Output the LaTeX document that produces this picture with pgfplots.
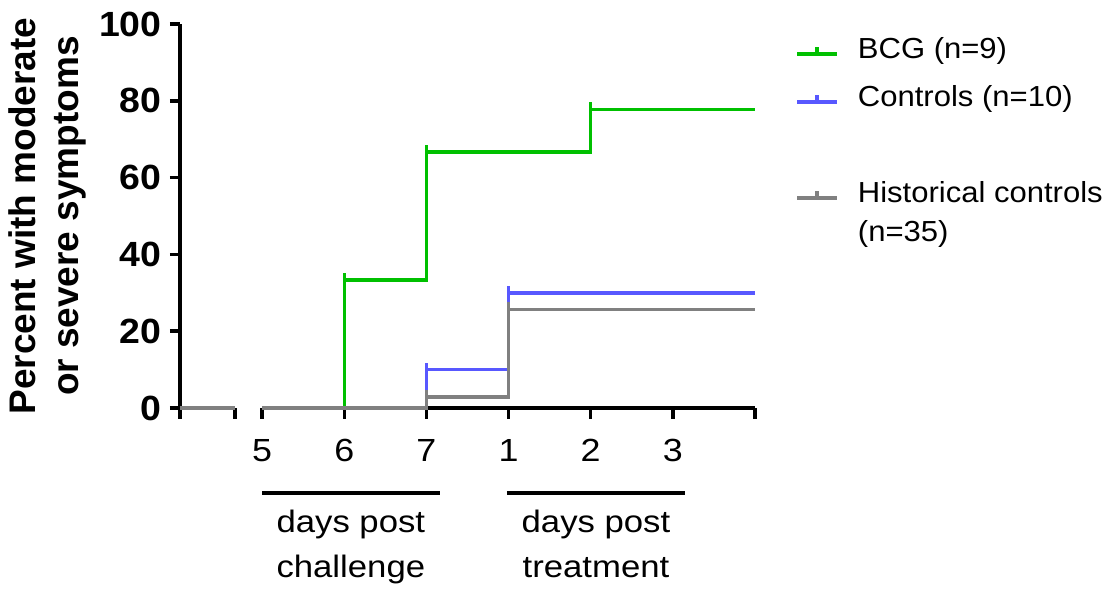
\documentclass[border=0pt]{standalone}
\usepackage{pgfplots}
\pgfplotsset{compat=1.18}
\usepackage{fontspec}
\setmainfont{Liberation Sans}
\newfontfamily\tickfont[FakeStretch=1.07]{Liberation Sans}
\newfontfamily\xfont[FakeStretch=1.12]{Liberation Sans}
\newfontfamily\legfont[FakeStretch=1.07]{Liberation Sans}
\definecolor{bcgc}{RGB}{0,192,0}
\definecolor{ctrlc}{RGB}{88,88,255}
\definecolor{histc}{RGB}{128,128,128}
\pgfdeclareplotmark{uptick}{\pgfpathmoveto{\pgfpointorigin}\pgfpathlineto{\pgfqpoint{0pt}{\pgfplotmarksize}}\pgfusepathqstroke}
\begin{document}
\begin{tikzpicture}
\begin{axis}[
  scale only axis, width=287.5pt, height=192pt,
  xmin=4, xmax=11, ymin=0, ymax=100,
  clip=false,
  axis y line*=left, axis x line*=bottom,
  x axis line style={draw=none},
  y axis line style={line width=1.75pt, -},
  tick align=outside, major tick length=5pt,
  ytick={0,20,40,60,80,100},
  yticklabels={0,20,40,60,80,100},
  ytick style={line width=1.75pt, black},
  yticklabel style={font=\tickfont\bfseries\fontsize{17.5}{19}\selectfont, inner sep=0pt, xshift=-4pt},
  xtick={5,6,7,8,9,10},
  xticklabels={5,6,7,1,2,3},
  xtick style={draw=none},
  xticklabel style={font=\xfont\fontsize{16}{18}\selectfont, inner sep=0pt, yshift=-10.5pt},
  ylabel={Percent with moderate\\or severe symptoms},
  ylabel style={at={(axis description cs:-0.23,0.5)}, anchor=center, align=center, font=\bfseries\fontsize{18.5}{21.5}\selectfont},
  legend image code/.code={\draw[#1, line cap=butt] (0pt,-2pt) -- (20pt,-2pt); \draw[#1, line cap=butt] (10pt,-2pt) -- (10pt,1.5pt); \path (29.5pt,0pt);},
  legend style={at={(1.0696,0.975)}, anchor=north west, draw=none, fill=none, inner sep=0pt, row sep=8pt,
    nodes={inner sep=0pt, text height=12pt, text depth=4pt, font=\legfont\fontsize{14.5}{17}\selectfont}},
  legend cell align=left,
]
% broken x axis
\draw[line width=1.75pt] (axis cs:4,0) -- (axis cs:4.67,0);
\draw[line width=1.75pt] (axis cs:5,0) -- (axis cs:11,0);
\pgfplotsinvokeforeach{4,4.67,5,6,7,8,9,10,11}{\draw[line width=1.75pt] (axis cs:#1,0) -- ([yshift=-5.5pt]axis cs:#1,0);}
% left segment
\addplot[bcgc, line width=1.75pt, forget plot] coordinates {(4,0) (4.67,0)};
\addplot[ctrlc, line width=1.75pt, forget plot] coordinates {(4,0) (4.67,0)};
\addplot[histc, line width=1.75pt, forget plot] coordinates {(4,0) (4.67,0)};
% BCG
\addplot[bcgc, line width=1.75pt, const plot] coordinates {(5,0) (6,33.33) (7,66.67) (9,77.78) (11,77.78)};
\addlegendentry{BCG (n=9)}
\addplot[bcgc, only marks, mark=uptick, mark size=3.5pt, mark options={line width=1.75pt}, forget plot] coordinates {(6,33.33) (7,66.67) (9,77.78)};
% Controls
\addplot[ctrlc, line width=1.75pt, const plot] coordinates {(5,0) (7,10) (8,30) (11,30)};
\addlegendentry{Controls (n=10)}
\addplot[ctrlc, only marks, mark=uptick, mark size=3.5pt, mark options={line width=1.75pt}, forget plot] coordinates {(7,10) (8,30)};
\addlegendimage{empty legend}
\addlegendentry{}
% Historical
\addplot[histc, line width=1.75pt, const plot] coordinates {(5,0) (7,2.857) (8,25.71) (11,25.71)};
\addlegendentry{Historical controls}
\addplot[histc, only marks, mark=uptick, mark size=3.5pt, mark options={line width=1.75pt}, forget plot] coordinates {(7,2.857) (8,25.71)};
\addlegendimage{empty legend}
\addlegendentry{\raisebox{4.5pt}{(n=35)}}
% annotations
\draw[line width=2pt] (axis cs:5,-22.14) -- (axis cs:7.165,-22.14);
\draw[line width=2pt] (axis cs:7.98,-22.14) -- (axis cs:10.148,-22.14);
\node[anchor=north, align=center, inner sep=0pt, font=\xfont\fontsize{15.5}{22.5}\selectfont] at (axis cs:6.08,-26.5) {days post\\challenge};
\node[anchor=north, align=center, inner sep=0pt, font=\xfont\fontsize{15.5}{22.5}\selectfont] at (axis cs:9.064,-26.5) {days post\\treatment};
\coordinate (bbsw) at (axis cs:1.809,-47.14);
\coordinate (bbne) at (axis cs:15.334,106.25);
\end{axis}
\pgfresetboundingbox
\useasboundingbox (bbsw) rectangle (bbne);
\end{tikzpicture}
\end{document}
